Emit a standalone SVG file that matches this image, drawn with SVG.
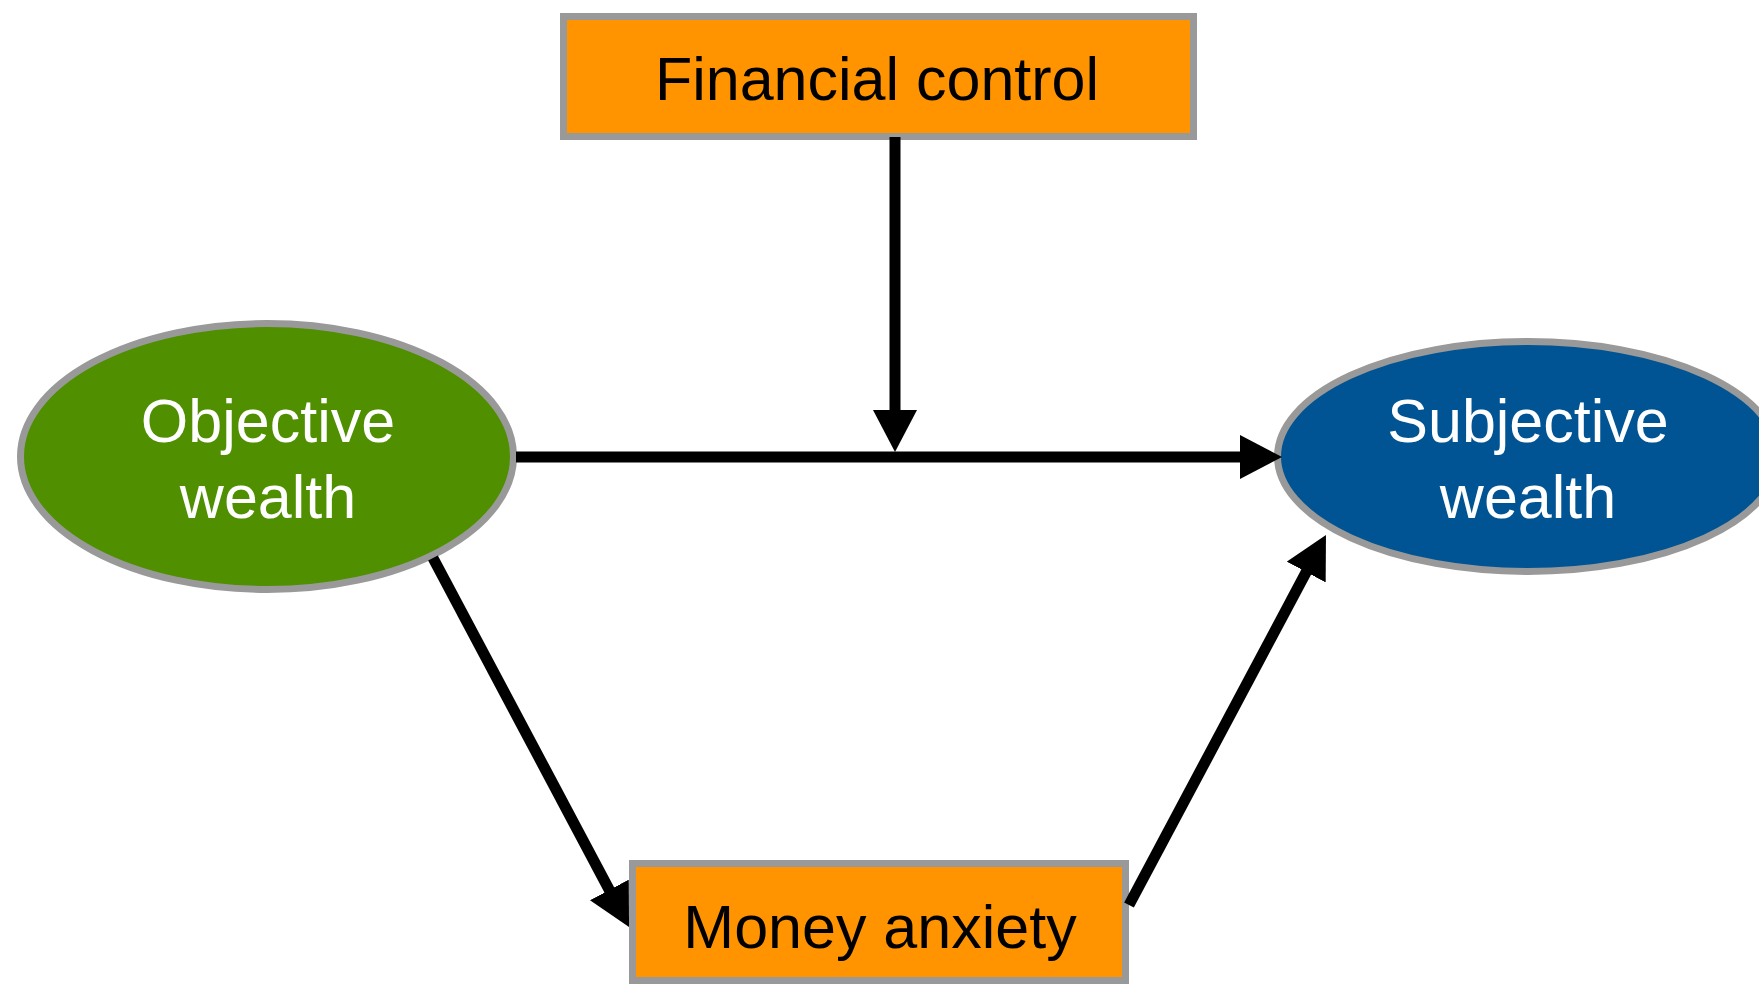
<svg xmlns="http://www.w3.org/2000/svg" width="1759" height="984" viewBox="0 0 1759 984">
  <style>
    .box { fill: #FF9300; stroke: #999999; stroke-width: 7; }
    .green { fill: #4F8F00; stroke: #999999; stroke-width: 7; }
    .blue { fill: #005493; stroke: #999999; stroke-width: 7; }
    .lbl { font-family: "Liberation Sans", Arial, sans-serif; font-size: 61px; text-anchor: middle; }
    .dark { fill: #000000; }
    .light { fill: #FFFFFF; }
    .conn { stroke: #000000; stroke-width: 11; fill: none; marker-end: url(#arrow); }
  </style>
  <defs>
    <marker id="arrow" viewBox="0 0 42 44" refX="1" refY="22" markerWidth="42" markerHeight="44" markerUnits="userSpaceOnUse" orient="auto">
      <path d="M0,0 L42,22 L0,44 Z" fill="#000000"/>
    </marker>
  </defs>
  <rect width="1759" height="984" fill="#FFFFFF"/>

  <g id="financial-control">
    <rect class="box" x="563.5" y="16.5" width="630" height="120"/>
    <text class="lbl dark" x="877" y="100">Financial control</text>
  </g>

  <g id="objective-wealth">
    <ellipse class="green" cx="267" cy="456.5" rx="246.5" ry="133"/>
    <text class="lbl light" x="268" y="442">Objective</text>
    <text class="lbl light" x="268" y="518">wealth</text>
  </g>

  <g id="subjective-wealth">
    <ellipse class="blue" cx="1528" cy="456.5" rx="250.5" ry="115"/>
    <text class="lbl light" x="1528" y="442">Subjective</text>
    <text class="lbl light" x="1528" y="518">wealth</text>
  </g>

  <g id="money-anxiety">
    <rect class="box" x="632.5" y="863.5" width="493" height="117"/>
    <text class="lbl dark" x="880" y="948">Money anxiety</text>
  </g>

  <g id="connectors">
    <line class="conn" x1="895" y1="137" x2="895" y2="411"/>
    <line class="conn" x1="516" y1="457" x2="1241" y2="457"/>
    <line class="conn" x1="433" y1="558" x2="609.8" y2="890.8"/>
    <line class="conn" x1="1129" y1="905" x2="1306.7" y2="571.2"/>
  </g>
</svg>
